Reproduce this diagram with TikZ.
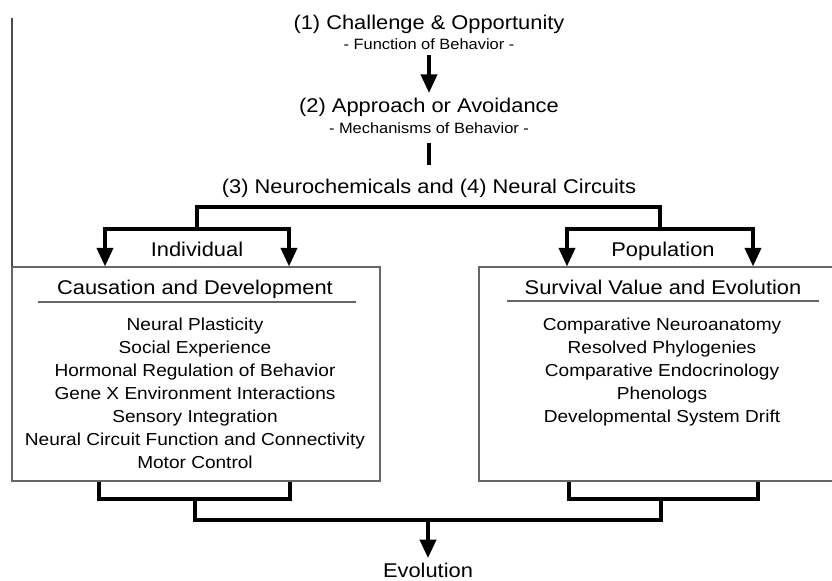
\documentclass[tikz,border=0pt]{standalone}
\usepackage{fontspec}
\setmainfont[FakeStretch=1.1]{Liberation Sans}
\usepackage{tikz}
\usetikzlibrary {arrows.meta}
\tikzset{
        base/.style={inner sep=0pt, anchor=base, text=black},
        head/.style={base, font=\fontsize{14.9}{18}\selectfont},
        sub/.style={base, font=\fontsize{11.2}{13}\selectfont},
        itemlist/.style={inner sep=0pt, anchor=north, align=center,
                         font=\fontsize{13}{17.25}\selectfont},
        boxframe/.style={draw=black!60, line width=0.8pt,
                         minimum width=276pt, minimum height=160.5pt},
        rule/.style={draw=black!60, line width=0.8pt},
        conn/.style={line width=3pt},
        myarrow/.style={conn, -{Triangle[length=14pt, width=12pt]}},
        twoarrow/.style={conn, {Triangle[length=14pt, width=12pt]}-{Triangle[length=14pt, width=12pt]}},
 }

\begin{document}
\begin{tikzpicture}[x=0.75pt, y=-0.75pt]
    \clip (0,0) rectangle (832,581);
    \draw[line width=1pt, black!70] (12,18) -- (12,295);

    \node[head] (chal) at (429,29.5) {(1) Challenge \& Opportunity};
    \node[sub] (func) at (429,49.5) {- Function of Behavior -};
    \node[head] (appr) at (429,113) {(2) Approach or Avoidance};
    \node[sub] (mech) at (429,133.5) {- Mechanisms of Behavior -};
    \node[head] (neuro) at (429,194) {(3) Neurochemicals and (4) Neural Circuits};
    \draw[myarrow, shorten <=4pt, shorten >=4pt] (func) -- (appr);
    \draw[conn, shorten <=7pt, shorten >=11pt] (mech) -- (neuro);

    \node[boxframe] (cd) at (196,374) {};
    \node[boxframe] (sv) at (663,374) {};
    \node[head] (cdhead) at (195,294) {Causation and Development};
    \node[head] (svhead) at (663,294) {Survival Value and Evolution};
    \draw[rule] (38,302) -- (356,302);
    \draw[rule] (507,301) -- (819,301);
    \node[itemlist] (cdlist) at (195,318) {Neural Plasticity\\
         Social Experience\\Hormonal Regulation of Behavior\\
         Gene X Environment Interactions\\Sensory Integration\\
         Neural Circuit Function and Connectivity\\Motor Control};
    \node[itemlist] (svlist) at (662,318) {Comparative Neuroanatomy\\
         Resolved Phylogenies\\Comparative Endocrinology\\Phenologs\\
         Developmental System Drift};

    \coordinate (ind) at (197,229);
    \coordinate (pop) at (660,229);
    \coordinate (ind-l) at (105,229);
    \coordinate (ind-r) at (289,229);
    \coordinate (pop-l) at (567,229);
    \coordinate (pop-r) at (753,229);
    \draw[conn] (ind) -- ++(0,-22) -| (pop);
    \draw[twoarrow] (ind-l |- cd.north) -- (ind-l) -- (ind-r) -- (ind-r |- cd.north);
    \draw[twoarrow] (pop-l |- sv.north) -- (pop-l) -- (pop-r) -- (pop-r |- sv.north);
    \node[head] (indiv) at (197,257) {Individual};
    \node[head] (popul) at (663,257) {Population};

    \coordinate (cd-l) at (99,499);
    \coordinate (cd-r) at (290,499);
    \coordinate (cd-m) at (195,499);
    \coordinate (sv-l) at (569,499);
    \coordinate (sv-r) at (758,499);
    \coordinate (sv-m) at (661,499);
    \draw[conn] (cd-l |- cd.south) -- (cd-l) -- (cd-r) -- (cd-r |- cd.south);
    \draw[conn] (sv-l |- sv.south) -- (sv-l) -- (sv-r) -- (sv-r |- sv.south);
    \draw[conn] (cd-m) -- ++(0,21) -| (sv-m);
    \coordinate (merge) at (428,520);
    \node[head] (evo) at (428,577.5) {Evolution};
    \draw[myarrow, shorten >=3.5pt] (merge) -- (evo);
\end{tikzpicture}
\end{document}
